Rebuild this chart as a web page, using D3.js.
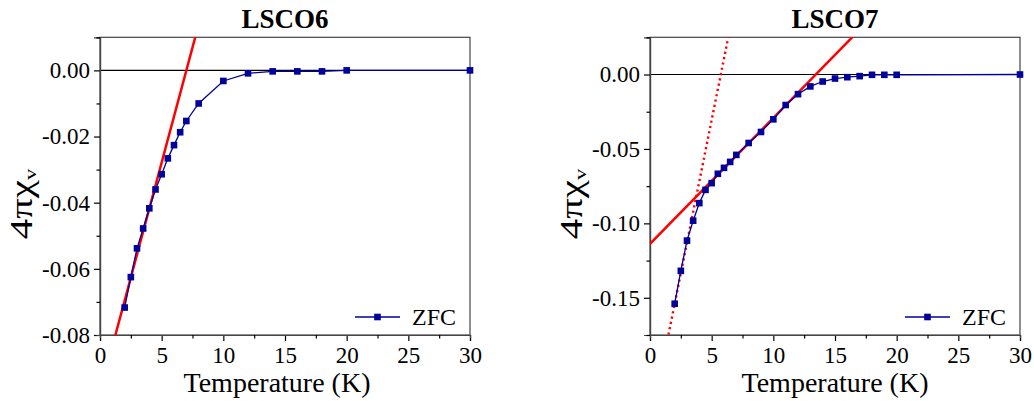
<!DOCTYPE html>
<html><head><meta charset="utf-8">
<script src="https://cdn.jsdelivr.net/npm/d3@7"></script>
</head>
<body style="margin:0;background:#fff">
<svg id="c" width="1034" height="401" font-family="Liberation Serif" style="display:block"></svg>
<script>
// ---- data ----
const tempL = [2,2.5,3,3.5,4,4.5,5,5.5,6,6.5,7,8,10,12,14,16,18,20,30];
const chiL  = [-0.0717,-0.0625,-0.0538,-0.0478,-0.0417,-0.0360,-0.0314,-0.0266,-0.0226,-0.0187,-0.0153,-0.0100,-0.0032,-0.0009,-0.0003,-0.0003,-0.0003,0,0];
const fitL  = [[1.2,-0.0807],[7.75,0.0104]];

const tempR = [2,2.5,3,3.5,4,4.5,5,5.5,6,6.5,7,8,9,10,11,12,13,14,15,16,17,18,19,20,30];
const chiR  = [-0.154,-0.1319,-0.1116,-0.0982,-0.0864,-0.0775,-0.0730,-0.0667,-0.0627,-0.0587,-0.0540,-0.0460,-0.0386,-0.0301,-0.0205,-0.0132,-0.0080,-0.0047,-0.0027,-0.0018,-0.0011,-0.0002,-0.0002,-0.0002,0];
const fitR  = [[0,-0.1138],[16.5,0.0259]];
const fitRdot = [[1.5,-0.1747],[6.4,0.0272]];

const xTicks = [0,5,10,15,20,25,30];
const xMinor = [2.5,7.5,12.5,17.5,22.5,27.5];
const yTicksL = [0,-0.02,-0.04,-0.06,-0.08];
const yMinorL = [0.01,-0.01,-0.03,-0.05,-0.07];
const yTicksR = [0,-0.05,-0.10,-0.15];
const yMinorR = [0.025,-0.025,-0.075,-0.125,-0.175];
const titles = ["LSCO6","LSCO7"];
const legendLabel = "ZFC";

const FONT = "Liberation Serif";
const svg = d3.select("#c");
const BLUE = "#00009c", RED = "#ff0000", FRAME = "#444";

function panel(opt){
  const {x0,x1,yDom,xs,ys,fits,dotted,yT,yM,title,id,titleDx} = opt;
  const top = 37.3, bot = 335;
  const x = d3.scaleLinear([0,30],[x0,x1]);
  const y = d3.scaleLinear(yDom,[bot,top]);
  const g = svg.append("g");
  g.append("clipPath").attr("id",id).append("rect")
    .attr("x",x0).attr("y",top).attr("width",x1-x0).attr("height",bot-top);

  g.append("line").attr("x1",x0).attr("x2",x1).attr("y1",y(0)).attr("y2",y(0))
    .attr("stroke","#000").attr("stroke-width",1.2);

  g.append("rect").attr("x",x0).attr("y",top).attr("width",x1-x0).attr("height",bot-top)
    .attr("fill","none").attr("stroke",FRAME).attr("stroke-width",1.2);

  const fmt = v => d3.format(".2f")(v).replace("\u2212","-");
  const ax = g.append("g").attr("transform",`translate(0,${bot})`)
    .call(d3.axisBottom(x).tickValues(xTicks).tickSize(6).tickPadding(4).tickFormat(d3.format("d")));
  const axm = g.append("g").attr("transform",`translate(0,${bot})`)
    .call(d3.axisBottom(x).tickValues(xMinor).tickSize(3.5).tickFormat(""));
  const ay = g.append("g").attr("transform",`translate(${x0},0)`)
    .call(d3.axisLeft(y).tickValues(yT).tickSize(6).tickPadding(4).tickFormat(fmt));
  const aym = g.append("g").attr("transform",`translate(${x0},0)`)
    .call(d3.axisLeft(y).tickValues(yM).tickSize(3.5).tickFormat(""));
  [ax,axm,ay,aym].forEach(a=>{
    a.attr("font-family",FONT).attr("font-size",23);
    a.select(".domain").attr("stroke",FRAME).attr("stroke-width",1.2);
    a.selectAll(".tick line").attr("stroke","#000").attr("stroke-width",1.2);
    a.selectAll("text").attr("font-family",FONT).attr("font-size",23).attr("fill","#000");
  });
  ax.selectAll("text").attr("dy","0.78em");

  const ln = d3.line().x(d=>x(d[0])).y(d=>y(d[1]));
  fits.forEach(f=>{
    g.append("path").attr("d",ln(f)).attr("clip-path",`url(#${id})`)
      .attr("fill","none").attr("stroke",RED).attr("stroke-width",2.5);
  });
  if(dotted){
    g.append("path").attr("d",ln(dotted)).attr("clip-path",`url(#${id})`)
      .attr("fill","none").attr("stroke",RED).attr("stroke-width",2.4)
      .attr("stroke-dasharray","2.2,3.2");
  }

  const pts = xs.map((t,i)=>[t,ys[i]]);
  g.append("path").attr("d",ln(pts)).attr("fill","none").attr("stroke",BLUE).attr("stroke-width",1.3);
  g.selectAll(".m").data(pts).enter().append("rect")
    .attr("x",d=>x(d[0])-3.3).attr("y",d=>y(d[1])-3.3).attr("width",6.6).attr("height",6.6)
    .attr("fill",BLUE);

  g.append("text").attr("x",(x0+x1)/2).attr("y",28).attr("text-anchor","middle")
    .attr("font-family",FONT).attr("font-weight","bold").attr("font-size",27).text(title);
  g.append("text").attr("x",(x0+x1)/2+titleDx).attr("y",392).attr("text-anchor","middle")
    .attr("font-family",FONT).attr("font-size",28).text("Temperature (K)");
  const yl = g.append("text").attr("transform",`translate(${x0-68},${204}) rotate(-90) scale(1.32,1)`)
    .attr("text-anchor","middle").attr("font-family",FONT).attr("font-size",31);
  yl.append("tspan").text("4πχ");
  yl.append("tspan").attr("font-size",17).attr("dy",4).text("v");

  const lx = x0+255, lyy = 317;
  g.append("line").attr("x1",lx).attr("x2",lx+45).attr("y1",lyy).attr("y2",lyy)
    .attr("stroke",BLUE).attr("stroke-width",1.3);
  g.append("rect").attr("x",lx+22.5-3.3).attr("y",lyy-3.3).attr("width",6.6).attr("height",6.6).attr("fill",BLUE);
  g.append("text").attr("x",lx+57).attr("y",lyy+8).attr("font-family",FONT).attr("font-size",24).text(legendLabel);
}

panel({x0:100,x1:470,yDom:[-0.08,0.01],xs:tempL,ys:chiL,fits:[fitL],dotted:null,
  yT:yTicksL,yM:yMinorL,title:titles[0],id:"clipL",titleDx:-8});
panel({x0:650,x1:1020,yDom:[-0.175,0.025],xs:tempR,ys:chiR,fits:[fitR],dotted:fitRdot,
  yT:yTicksR,yM:yMinorR,title:titles[1],id:"clipR",titleDx:0});
</script>
</body></html>
